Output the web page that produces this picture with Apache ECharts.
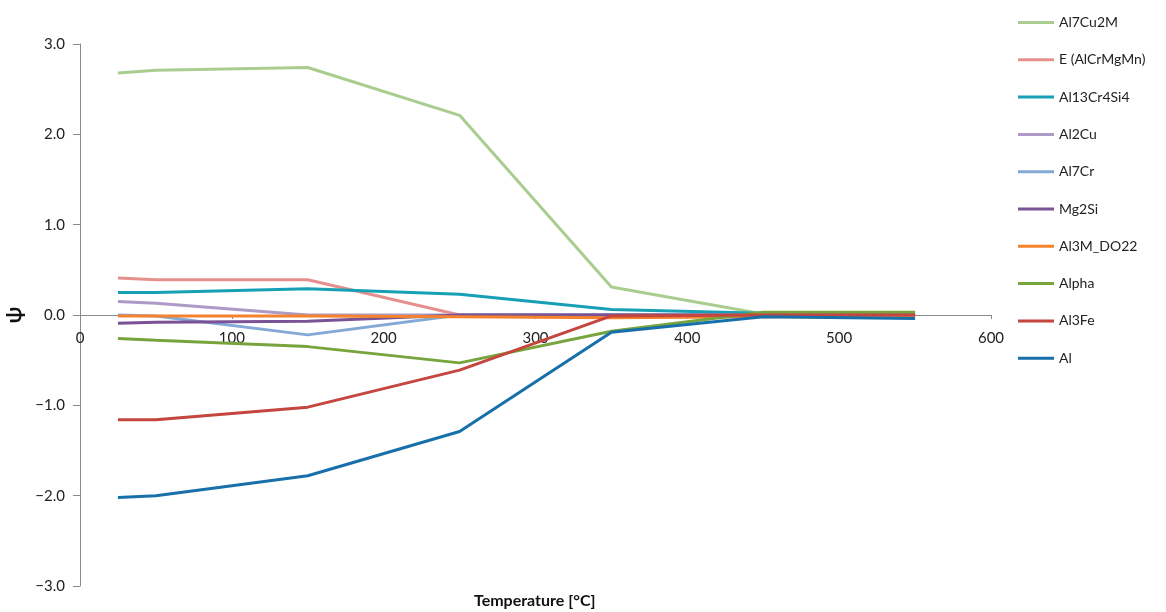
<!DOCTYPE html>
<html>
<head>
<meta charset="utf-8">
<title>Phase fraction ψ vs temperature</title>
<script src="https://cdn.jsdelivr.net/npm/echarts@6/dist/echarts.min.js"></script>
<style>
  html, body { margin: 0; padding: 0; background: #fff; }
  #chart { width: 1166px; height: 612px; }
</style>
</head>
<body>
<div id="chart"></div>
<script>
// Temperatures (°C) at which ψ was evaluated
const temps = [25, 50, 150, 250, 350, 450, 550];

// ψ per phase
const al7cu2m   = [2.68, 2.71, 2.74, 2.21, 0.31, 0.01, 0.00];
const eAlCrMgMn = [0.41, 0.39, 0.39, 0.00, 0.00, 0.00, 0.00];
const al13cr4si4 = [0.25, 0.25, 0.29, 0.23, 0.06, 0.02, 0.00];
const al2cu     = [0.15, 0.13, 0.00, 0.00, 0.00, 0.00, 0.00];
const al7cr     = [0.00, -0.01, -0.22, 0.00, 0.00, 0.00, 0.00];
const mg2si     = [-0.09, -0.08, -0.07, 0.00, 0.00, 0.00, 0.00];
const al3mDO22  = [-0.01, -0.01, -0.01, -0.02, -0.03, -0.02, -0.02];
const alpha     = [-0.26, -0.28, -0.35, -0.53, -0.18, 0.03, 0.03];
const al3fe     = [-1.16, -1.16, -1.02, -0.61, -0.01, 0.00, 0.00];
const al        = [-2.02, -2.00, -1.78, -1.29, -0.19, -0.02, -0.04];

const seriesNames = ['Al7Cu2M', 'E (AlCrMgMn)', 'Al13Cr4Si4', 'Al2Cu', 'Al7Cr',
                     'Mg2Si', 'Al3M_DO22', 'Alpha', 'Al3Fe', 'Al'];
const seriesData = [al7cu2m, eAlCrMgMn, al13cr4si4, al2cu, al7cr,
                    mg2si, al3mDO22, alpha, al3fe, al];
const seriesColors = ['#a9cd8f', '#e6908e', '#17a0b5', '#ad9ac6', '#85a9d6',
                      '#7a5296', '#f5822d', '#77a43c', '#c5453f', '#1870aa'];

const FONT = 'Lato, "Open Sans", sans-serif';
const axisGray = '#8a8a8a';

// plot box; the y range is symmetric so the zero line sits at mid-height
const GRID = { left: 80, right: 175, top: 44, bottom: 26 };
const plotHeight = 612 - GRID.top - GRID.bottom;

const chart = echarts.init(document.getElementById('chart'), null, { renderer: 'canvas' });

const series = seriesNames.map((name, i) => ({
  name: name,
  type: 'line',
  data: temps.map((t, j) => [t, seriesData[i][j]]),
  symbol: 'none',
  lineStyle: { width: 3, color: seriesColors[i] },
  itemStyle: { color: seriesColors[i] },
  emphasis: { disabled: true },
  animation: false
}));

chart.setOption({
  animation: false,
  grid: Object.assign({ containLabel: false, outerBoundsMode: 'none' }, GRID),
  legend: {
    orient: 'vertical',
    left: 1018,
    top: 15.5,
    padding: 0,
    itemWidth: 36,
    itemHeight: 14,
    itemGap: 23.3,
    textStyle: { fontFamily: FONT, fontSize: 14, color: '#222' },
    data: seriesNames.map((n, i) => ({
      name: n,
      icon: 'path://M0,6 L36,6 L36,9 L0,9 Z',
      itemStyle: { color: seriesColors[i] }
    }))
  },
  xAxis: {
    type: 'value',
    min: 0,
    max: 600,
    interval: 100,
    position: 'bottom',
    // lift the whole axis (line, ticks, labels) up to ψ = 0
    offset: -plotHeight / 2,
    axisLine: { onZero: false, lineStyle: { color: axisGray, width: 1 } },
    axisTick: { show: true, length: 4, lineStyle: { color: axisGray } },
    axisLabel: { fontFamily: FONT, fontSize: 15, color: '#222', margin: 16 },
    splitLine: { show: false }
  },
  yAxis: {
    type: 'value',
    min: -3,
    max: 3,
    interval: 1,
    name: 'ψ',
    nameLocation: 'middle',
    nameRotate: 90,
    nameGap: 52,
    nameTextStyle: { fontFamily: FONT, fontSize: 21, fontWeight: 'bold', color: '#111' },
    axisLine: { show: true, onZero: false, lineStyle: { color: axisGray, width: 1 } },
    axisTick: { show: true, length: 7, lineStyle: { color: axisGray } },
    axisLabel: {
      fontFamily: FONT, fontSize: 15, color: '#222', margin: 15,
      formatter: v => v.toFixed(1).replace('-', '\u2212')
    },
    splitLine: { show: false }
  },
  graphic: [{
    type: 'text',
    left: 474,
    top: 593,
    style: {
      text: 'Temperature [°C]',
      font: 'bold 16px ' + FONT,
      fill: '#111'
    }
  }],
  series: series
});
</script>
</body>
</html>
